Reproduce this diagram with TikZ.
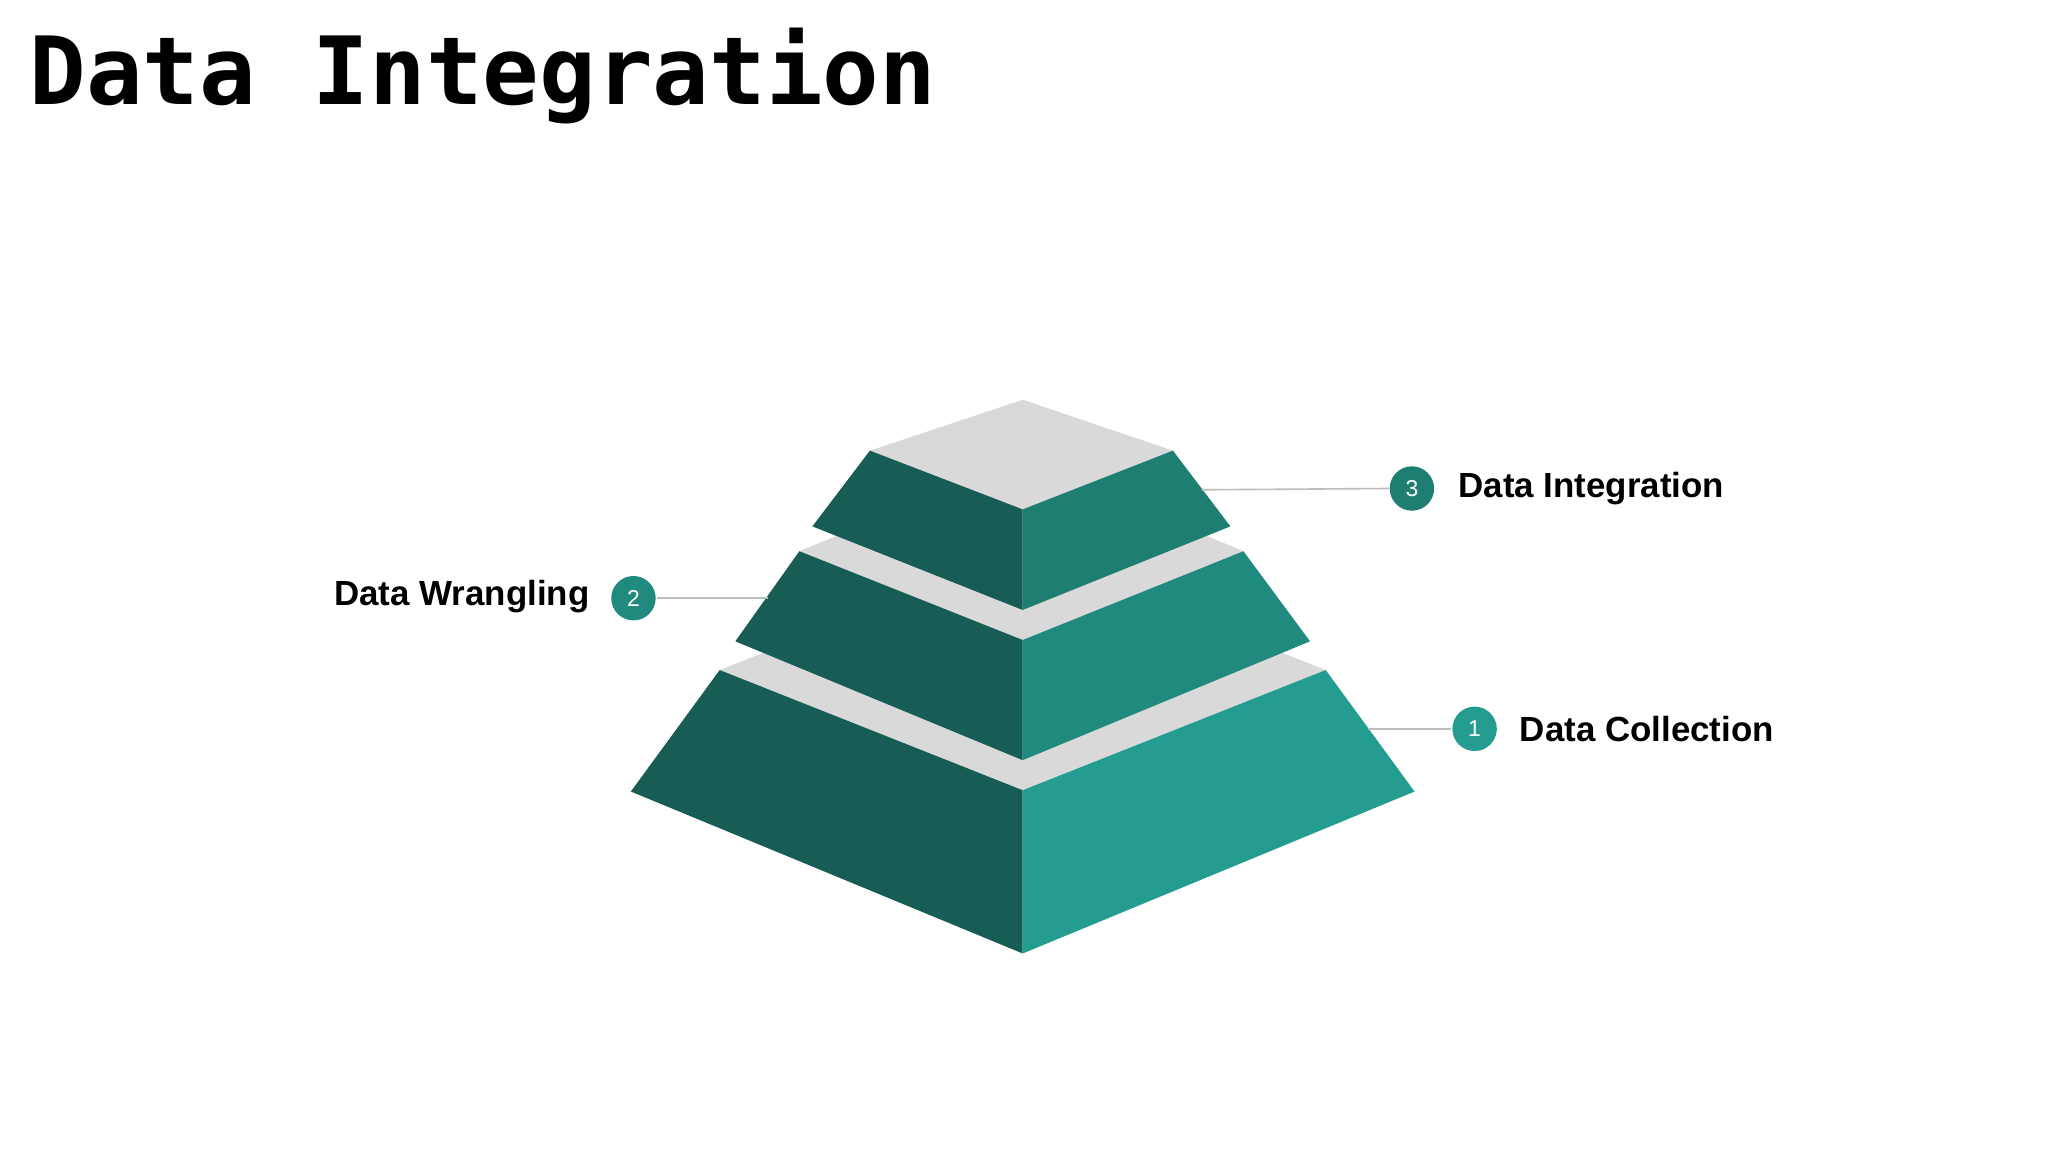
\documentclass[tikz,border=0pt]{standalone}
\usepackage{fontspec}
\setmainfont{Liberation Sans}
\newfontfamily\titlefont{DejaVu Sans Mono}
\definecolor{dk}{HTML}{175C55}
\definecolor{rt}{HTML}{1E7E72}
\definecolor{rm}{HTML}{1F8A7D}
\definecolor{rb}{HTML}{259C90}
\definecolor{gy}{HTML}{D9D9D9}
\definecolor{ln}{HTML}{BDBDBD}
\tikzset{
 badge/.style={circle,minimum size=34*0.1mm,inner sep=0pt,text=white,font=\fontsize{5}{6}\selectfont},
 lbl/.style={font=\bfseries\fontsize{7.6}{9}\selectfont,inner sep=0pt},
 lead/.style={draw=ln,line width=0.35pt}
}
\begin{document}
\begin{tikzpicture}[x=0.1mm,y=-0.1mm]
\useasboundingbox[fill=white] (0,0) rectangle (1568,882);
\node[anchor=base west,inner sep=0pt,font=\titlefont\bfseries\fontsize{20.5}{24}\selectfont] (title) at (22,80) {Data Integration};
% bottom tier
\fill[gy] (551,513)--(783,421)--(1015,513)--(783,605)--cycle;
\fill[dk] (551,513)--(783,605)--(783,730)--(483,606)--cycle;
\fill[rb] (1015,513)--(783,605)--(783,730)--(1083,606)--cycle;
% middle tier
\fill[gy] (612,422)--(783,352)--(952,422)--(783,490)--cycle;
\fill[dk] (612,422)--(783,490)--(783,582)--(563,491)--cycle;
\fill[rm] (952,422)--(783,490)--(783,582)--(1003,491)--cycle;
% top tier
\fill[gy] (666,345)--(783,306)--(898,345)--(783,390)--cycle;
\fill[dk] (666,345)--(783,390)--(783,467)--(622,403)--cycle;
\fill[rt] (898,345)--(783,390)--(783,467)--(942,403)--cycle;
% callouts
\node[badge,fill=rt] (b3) at (1081,374) {3};
\coordinate (e3) at (920,375);
\draw[lead] (e3) -- (b3.west);
\node[lbl,anchor=west] (t3) at (1116,374) {Data Integration};
\node[badge,fill=rm] (b2) at (485,458) {2};
\coordinate (e2) at (588,458);
\draw[lead] (b2.east) -- (e2);
\node[lbl,anchor=east] (t2) at (452,457) {Data Wrangling};
\node[badge,fill=rb] (b1) at (1129,558) {1};
\coordinate (e1) at (1047,558);
\draw[lead] (e1) -- (b1.west);
\node[lbl,anchor=west] (t1) at (1163,558) {Data Collection};
\end{tikzpicture}
\end{document}
